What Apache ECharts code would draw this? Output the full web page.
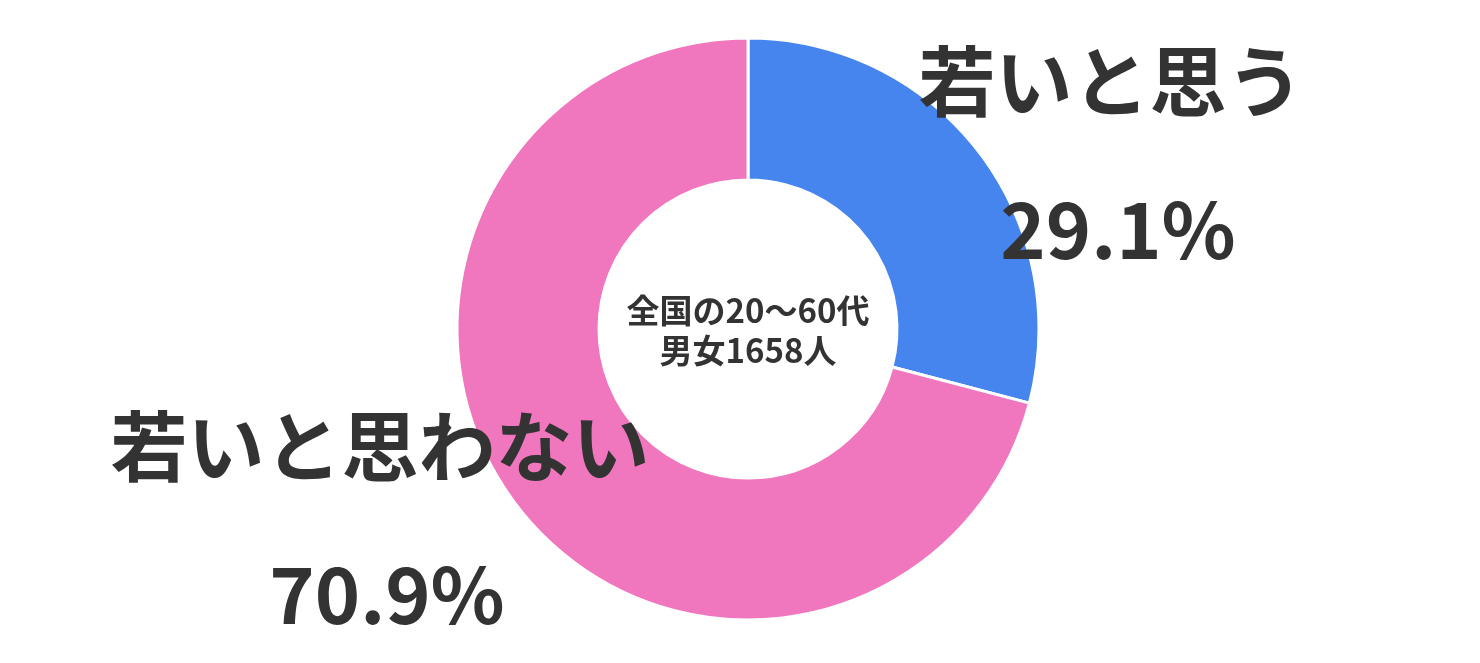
<!DOCTYPE html>
<html><head><meta charset="utf-8">
<script src="https://cdn.jsdelivr.net/npm/echarts@6/dist/echarts.min.js"></script>
<style>html,body{margin:0;padding:0;background:#fff}#c{width:1480px;height:663px}</style>
</head><body><div id="c"></div>
<script>
const categories = ['若いと思う', '若いと思わない'];
const values = [29.1, 70.9];
const colors = ['#4684ee', '#f076bd'];
const centerLines = ['全国の20～60代', '男女1658人'];
const labelPos = [[1111, 156], [380, 521]];

const chart = echarts.init(document.getElementById('c'));
const FONT = '"Noto Sans CJK JP", "Noto Sans", sans-serif';
chart.setOption({
  backgroundColor: '#fff',
  animation: false,
  graphic: [{
    type: 'text',
    style: {
      x: 748, y: 330, text: centerLines.join('\n'), align: 'center', verticalAlign: 'middle',
      font: 'bold 33px ' + FONT, fill: '#333', lineHeight: 40
    },
    z: 100
  }],
  series: [{
    type: 'pie',
    center: [748, 329],
    radius: [149, 291],
    startAngle: 90,
    clockwise: true,
    itemStyle: { borderColor: '#fff', borderWidth: 3 },
    label: {
      show: true,
      position: 'outside',
      overflow: 'none',
      width: 800,
      formatter: p => '{n|' + p.name + '}\n{v|' + p.value.toFixed(1) + '%}',
      rich: {
        n: { fontFamily: FONT, fontWeight: 'bold', fontSize: 77, color: '#333', lineHeight: 148 },
        v: { fontFamily: FONT, fontWeight: 'bold', fontSize: 77, color: '#333', lineHeight: 148, padding: [0, 0, 0, 14] }
      }
    },
    labelLine: { show: false },
    labelLayout: function (params) {
      const p = labelPos[params.dataIndex];
      return { x: p[0], y: p[1], align: 'center', verticalAlign: 'middle' };
    },
    emphasis: { disabled: true },
    data: categories.map((c, i) => ({ name: c, value: values[i], itemStyle: { color: colors[i] } }))
  }]
});
</script>
</body></html>
